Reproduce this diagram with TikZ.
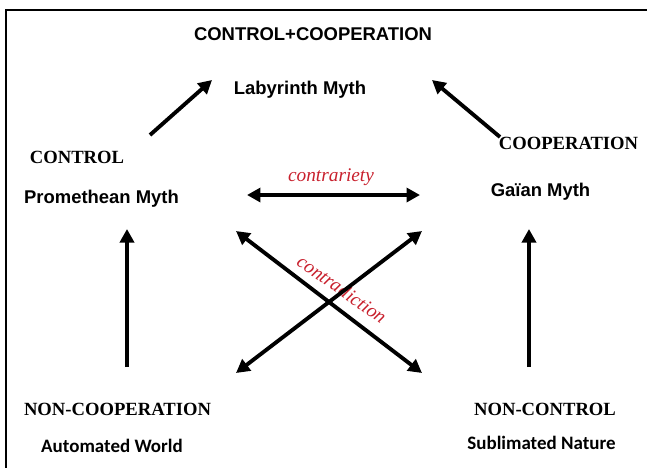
\documentclass[tikz,border=0pt]{standalone}
\usepackage{fontspec}
\setmainfont{Liberation Serif}
\setsansfont{Liberation Sans}
\newfontfamily\calfont{Carlito}
\usepackage{xcolor}
\usetikzlibrary{arrows.meta}
\definecolor{myred}{RGB}{200,32,45}
\tikzset{
	MyPx/.style={x=0.02cm,y=-0.02cm},
	MyArrow/.style={line width=2.2pt,-{Triangle[length=2.7mm,width=2.8mm]}},
	MyBiArrow/.style={line width=2.2pt,{Triangle[length=2.7mm,width=2.8mm]}-{Triangle[length=2.7mm,width=2.8mm]}},
	MyMyth/.style={anchor=base,inner sep=0pt,font=\sffamily\bfseries\fontsize{10.5}{12}\selectfont},
	MyPole/.style={anchor=base,inner sep=0pt,font=\rmfamily\bfseries\fontsize{10.6}{12}\selectfont},
	MyWorld/.style={anchor=base,inner sep=0pt,font=\calfont\bfseries\fontsize{10.8}{12}\selectfont},
	MyRel/.style={anchor=base,inner sep=0pt,text=myred,font=\rmfamily\itshape\fontsize{11}{12}\selectfont}
		}
\begin{document}
\begin{tikzpicture}[MyPx]
	\useasboundingbox (0,0) rectangle (647,468);
	\draw[line width=1.2pt] (647,10) -- (6,10) -- (6,468);% frame

	% labels
	\node[MyMyth] (cc) at (313,40.5) {CONTROL+COOPERATION};
	\node[MyMyth] (laby) at (300,94) {Labyrinth Myth};
	\node[MyPole] (ctrl) at (77,163) {CONTROL};
	\node[MyMyth] (prom) at (101.5,203) {Promethean Myth};
	\node[MyPole] (coop) at (568.5,149) {COOPERATION};
	\node[MyMyth] (gaia) at (540.5,196) {Ga\"{\i}an Myth};
	\node[MyPole] (noncoop) at (117.5,415) {NON-COOPERATION};
	\node[MyPole] (nonctrl) at (545,415) {NON-CONTROL};
	\node[MyWorld] (auto) at (112,452) {Automated World};
	\node[MyWorld] (subl) at (541.5,449) {Sublimated Nature};
	\node[MyRel] (contr) at (331,181) {contrariety};
	\node[MyRel,anchor=center,rotate=-35] (contrad) at (342,289) {contradiction};

	% arrow ends
	\coordinate (LA) at (150,135);
	\coordinate (LB) at (212,80);
	\coordinate (RA) at (500,137);
	\coordinate (RB) at (432,80);
	\coordinate (VLA) at (127,367);
	\coordinate (VLB) at (127,229);
	\coordinate (VRA) at (529,367);
	\coordinate (VRB) at (529,229);
	\coordinate (HA) at (247,195);
	\coordinate (HB) at (420,195);
	\coordinate (XA) at (236,231);
	\coordinate (XB) at (422,373);
	\coordinate (XC) at (422,231);
	\coordinate (XD) at (236,373);

	\draw[MyArrow] (LA) -- (LB);
	\draw[MyArrow] (RA) -- (RB);
	\draw[MyArrow] (VLA) -- (VLB);
	\draw[MyArrow] (VRA) -- (VRB);
	\draw[MyBiArrow] (HA) -- (HB);
	\draw[MyBiArrow] (XA) -- (XB);
	\draw[MyBiArrow] (XC) -- (XD);
\end{tikzpicture}
\end{document}
